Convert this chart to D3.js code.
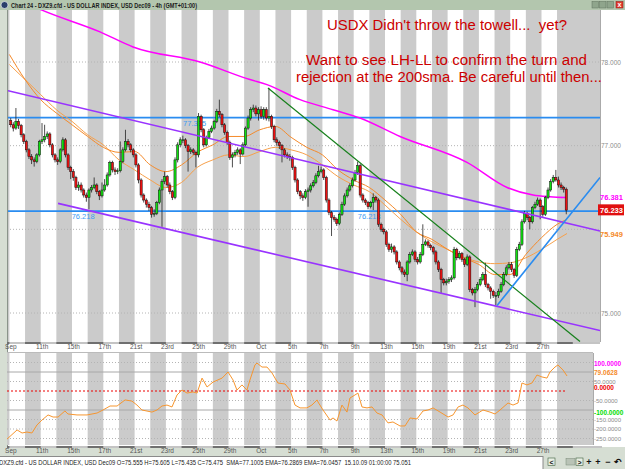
<!DOCTYPE html>
<html>
<head>
<meta charset="utf-8">
<script src="https://cdn.jsdelivr.net/npm/d3@7"></script>
<style>
  body { margin: 0; background: #fff; }
  svg { display: block; font-family: "Liberation Sans", Arial, sans-serif; }
</style>
</head>
<body>
<div id="chart"></div>
<script>
// ---- data (4h candles, 6 per trading day, Sep 9 .. Oct 28 2009) ----
const dayLabels = ["Sep","11th","15th","17th","21st","23rd","25th","29th","Oct","5th","7th","9th","13th","15th","19th","21st","23rd","27th"];
const labelDays = [0,2,4,6,8,10,12,14,16,18,20,22,24,26,28,30,32,34];

const firstOpen = 77.30;
const closes = [
  77.25, 77.21, 77.29, 77.24, 77.13, 77.05,
  76.95, 76.87, 76.83, 76.81, 76.89, 77.05,
  77.07, 77.11, 77.14, 77.01, 76.89, 76.83,
  76.81, 76.95, 77.07, 76.89, 76.74, 76.69,
  76.62, 76.50, 76.53, 76.47, 76.41, 76.38,
  76.47, 76.50, 76.53, 76.45, 76.40, 76.47,
  76.53, 76.65, 76.80, 76.71, 76.69, 76.70,
  76.81, 76.95, 77.05, 77.01, 76.95, 76.89,
  76.77, 76.59, 76.41, 76.35, 76.30, 76.26,
  76.18, 76.19, 76.32, 76.47, 76.57, 76.63,
  76.53, 76.45, 76.38, 76.83, 77.01, 77.07,
  77.07, 77.00, 76.93, 76.95, 76.92, 76.89,
  77.35, 77.19, 77.01, 77.10, 77.17, 77.21,
  77.29, 77.41, 77.37, 77.25, 77.16, 77.04,
  76.86, 76.89, 76.92, 76.95, 76.90, 77.01,
  77.21, 77.33, 77.43, 77.45, 77.38, 77.43,
  77.35, 77.43, 77.33, 77.35, 77.23, 77.07,
  77.04, 77.00, 76.95, 76.89, 76.87, 76.86,
  76.74, 76.59, 76.45, 76.40, 76.38, 76.45,
  76.47, 76.52, 76.56, 76.64, 76.69, 76.71,
  76.62, 76.35, 76.20, 76.14, 76.12, 76.07,
  76.18, 76.30, 76.40, 76.47, 76.52, 76.59,
  76.68, 76.76, 76.41, 76.35, 76.32, 76.27,
  76.32, 76.38, 76.35, 76.06, 76.00, 75.97,
  75.82, 75.76, 75.79, 75.73, 75.61, 75.54,
  75.49, 75.46, 75.61, 75.70, 75.73, 75.64,
  75.61, 75.70, 75.82, 75.85, 75.81, 75.78,
  75.73, 75.61, 75.52, 75.40, 75.36, 75.38,
  75.40, 75.42, 75.76, 75.66, 75.71, 75.64,
  75.58, 75.67, 75.28, 75.24, 75.28, 75.34,
  75.40, 75.46, 75.34, 75.30, 75.26, 75.21,
  75.21, 75.26, 75.34, 75.46, 75.54, 75.58,
  75.52, 75.45, 75.76, 75.82, 76.09, 76.19,
  76.14, 76.09, 76.26, 76.30, 76.35, 76.27,
  76.18, 76.38, 76.47, 76.57, 76.62, 76.59,
  76.53, 76.50, 76.48, 76.23
];
const highs = [
  77.33, 77.28, 77.45, 77.32, 77.26, 77.15,
  77.07, 76.97, 76.90, 76.86, 76.91, 77.07,
  77.27, 77.25, 77.17, 77.16, 77.03, 76.91,
  76.86, 76.97, 77.10, 77.09, 76.91, 76.76,
  76.72, 76.64, 76.57, 76.56, 76.49, 76.44,
  76.49, 76.53, 76.62, 76.55, 76.47, 76.56,
  76.60, 76.68, 76.82, 76.82, 76.74, 76.73,
  77.05, 76.98, 77.19, 77.08, 77.03, 76.97,
  76.91, 76.79, 76.61, 76.43, 76.37, 76.33,
  76.28, 76.24, 76.34, 76.50, 76.60, 76.69,
  76.65, 76.56, 76.47, 76.86, 77.04, 77.10,
  77.12, 77.09, 77.02, 76.98, 76.97, 76.94,
  77.39, 77.37, 77.21, 77.12, 77.20, 77.24,
  77.31, 77.44, 77.55, 77.39, 77.27, 77.18,
  77.06, 76.92, 76.95, 76.98, 76.97, 77.04,
  77.23, 77.36, 77.46, 77.49, 77.48, 77.46,
  77.47, 77.46, 77.46, 77.69, 77.37, 77.25,
  77.10, 77.06, 77.02, 76.97, 76.92, 76.90,
  76.88, 76.76, 76.61, 76.47, 76.43, 76.48,
  76.50, 76.55, 76.59, 76.67, 76.76, 76.75,
  76.73, 76.64, 76.37, 76.22, 76.17, 76.14,
  76.20, 76.33, 76.43, 76.50, 76.55, 76.62,
  76.71, 76.81, 76.78, 76.43, 76.37, 76.34,
  76.34, 76.43, 76.40, 76.37, 76.08, 76.02,
  75.99, 75.84, 75.83, 75.81, 75.75, 75.63,
  75.56, 75.52, 75.63, 75.73, 75.76, 75.75,
  75.67, 75.73, 76.06, 75.88, 75.87, 75.83,
  75.80, 75.75, 75.63, 75.54, 75.42, 75.41,
  75.43, 75.45, 75.79, 75.78, 75.74, 75.73,
  75.66, 75.70, 75.69, 75.30, 75.31, 75.37,
  75.43, 75.49, 75.60, 75.36, 75.32, 75.28,
  75.25, 75.29, 75.37, 75.49, 75.57, 75.61,
  75.61, 75.54, 75.79, 75.85, 76.12, 76.22,
  76.21, 76.16, 76.28, 76.33, 76.38, 76.37,
  76.29, 76.40, 76.50, 76.60, 76.65, 76.71,
  76.63, 76.56, 76.52, 76.50
];
const lows = [
  77.22, 77.17, 77.19, 77.20, 77.10, 77.02,
  76.92, 76.84, 76.78, 76.75, 76.79, 76.87,
  77.02, 77.04, 77.08, 76.98, 76.86, 76.80,
  76.77, 76.79, 76.93, 76.86, 76.71, 76.60,
  76.58, 76.47, 76.46, 76.44, 76.38, 76.33,
  76.24, 76.44, 76.48, 76.42, 76.35, 76.38,
  76.45, 76.51, 76.63, 76.68, 76.65, 76.66,
  76.68, 76.79, 76.93, 76.98, 76.92, 76.86,
  76.74, 76.55, 76.38, 76.32, 76.26, 76.22,
  76.14, 76.15, 76.17, 76.30, 76.03, 76.54,
  76.50, 76.42, 76.35, 76.36, 76.80, 76.98,
  77.03, 76.97, 76.69, 76.90, 76.89, 76.74,
  76.86, 77.16, 76.98, 76.99, 77.08, 77.15,
  77.19, 77.27, 77.34, 77.22, 77.13, 77.01,
  76.83, 76.74, 76.86, 76.89, 76.78, 76.88,
  76.99, 77.19, 77.30, 77.40, 77.35, 77.30,
  77.32, 77.31, 77.30, 77.29, 77.20, 77.04,
  77.00, 76.96, 76.80, 76.86, 76.84, 76.82,
  76.71, 76.56, 76.42, 76.36, 76.34, 76.36,
  76.27, 76.44, 76.50, 76.54, 76.62, 76.67,
  76.59, 76.32, 76.17, 75.92, 76.09, 76.04,
  76.05, 76.16, 76.28, 76.38, 76.45, 76.50,
  76.57, 76.65, 76.38, 76.32, 76.29, 76.24,
  76.25, 76.23, 76.32, 76.03, 75.97, 75.94,
  75.79, 75.73, 75.72, 75.70, 75.58, 75.51,
  75.46, 75.43, 75.38, 75.59, 75.68, 75.61,
  75.58, 75.59, 75.68, 75.80, 75.78, 75.75,
  75.70, 75.58, 75.49, 75.24, 75.33, 75.33,
  75.35, 75.37, 75.40, 75.63, 75.64, 75.61,
  75.55, 75.56, 75.25, 75.21, 75.07, 75.26,
  75.32, 75.38, 75.31, 75.27, 75.17, 75.18,
  75.09, 75.18, 75.24, 75.32, 75.44, 75.52,
  75.49, 75.42, 75.43, 75.74, 75.80, 76.07,
  76.11, 76.00, 76.07, 76.24, 76.28, 76.12,
  76.15, 76.16, 76.36, 76.45, 76.55, 76.57,
  76.50, 76.47, 76.44, 76.18
];

// indicator lines (position in trading days)
const emaDays  = [0,1,2,3,4,5,6,7,8,9,10,11,12,13,14,15,16,17,18,19,20,21,22,23,24,25,26,27,28,29,30,31,32,33,34,35,35.63];
const emaFast  = [78.09,77.79,77.55,77.39,77.25,77.11,76.98,76.92,76.93,76.77,76.69,76.77,76.92,77.01,77.11,77.11,77.19,77.23,77.10,76.98,76.89,76.71,76.59,76.50,76.35,76.18,75.97,75.88,75.76,75.66,75.58,75.46,75.46,75.70,75.90,76.06,76.12];
const emaSlow  = [77.97,77.79,77.61,77.43,77.29,77.13,77.01,76.83,76.71,76.59,76.50,76.56,76.74,76.83,76.89,76.87,76.93,76.98,76.95,76.89,76.77,76.63,76.53,76.45,76.29,76.12,75.97,75.85,75.76,75.67,75.61,75.59,75.60,75.66,75.76,75.88,75.95];
const smaDays  = [0, 2.08, 5.79, 7.9, 12.18, 15.37, 16.46, 18.57, 20.68, 22.4, 24.96, 29.24, 31.8, 33.46, 34.54, 35.63];
const sma200   = [78.80, 78.62, 78.36, 78.18, 78.00, 77.79, 77.73, 77.55, 77.43, 77.33, 77.11, 76.80, 76.50, 76.41, 76.39, 76.38];

const cciDays = [-0.15,0.49,0.81,1.12,1.44,1.76,2.08,2.47,2.79,3.11,3.55,3.74,4.32,4.96,5.6,5.98,6.43,6.88,7.39,7.83,8.15,8.47,9.11,9.43,9.75,10.07,10.39,10.71,11.03,11.35,11.73,11.99,12.31,12.63,13.01,13.59,13.97,14.29,14.54,14.86,15.18,15.37,15.69,15.82,16.14,16.46,16.78,16.97,17.16,17.61,17.93,18.25,18.57,19.01,19.33,19.66,19.72,20.04,20.49,20.68,20.93,21.25,21.57,21.76,22.08,22.27,22.53,22.85,23.17,23.49,23.81,24.19,24.51,24.96,25.28,25.6,26.04,26.43,26.75,27.07,27.52,28.03,28.35,28.67,28.98,29.3,29.75,30.26,30.71,31.03,31.35,31.86,32.18,32.5,32.75,33.07,33.39,33.71,34.03,34.35,34.54,34.86,35.05,35.37,35.63];
const cciVals = [-253,-205,-221,-216,-221,-179,-153,-126,-137,-137,-105,-121,-126,-126,-116,-100,-79,-79,-47,-53,-74,-100,-111,-100,-79,-74,-84,-21,5,-11,-5,-11,68,21,47,68,100,58,5,32,5,58,137,147,126,126,95,68,42,37,5,-74,-89,-89,-74,-47,-58,-100,-153,-142,-158,-74,-111,-37,-21,-11,-84,-89,-84,-116,-126,-168,-163,-184,-184,-142,-147,-105,-100,-89,-111,-137,-126,-84,-74,-89,-126,-100,-111,-121,-100,-63,-74,-63,42,32,42,84,74,68,100,126,137,111,79];

// drawn trend lines: [day, price] endpoints
const channelTop = [[-0.15, 77.66], [37.74, 75.98]];
const channelBot = [[3.11, 76.31], [37.74, 74.79]];
const greenLine  = [[16.52, 77.69], [36.46, 74.66]];
const blueRise   = [[31.16, 75.09], [37.74, 76.62]];
const levels     = [77.335, 76.218];

// ---- layout ----
const W = 625, H = 469;
const main = {left: 7, right: 600, top: 10, bottom: 342};
const low  = {left: 7, right: 593, top: 353, bottom: 445};

const x  = d3.scaleLinear().domain([0, 37]).range([9.4, 588.45]);
const y  = d3.scaleLinear().domain([75, 78]).range([313, 62]);
const yc = d3.scaleLinear().domain([-100, 100]).range([410, 372]);

const svg = d3.select("#chart").append("svg")
  .attr("width", W).attr("height", H);

// window frame
svg.append("rect").attr("width", W).attr("height", H).attr("fill", "#d6ded3");
svg.append("rect").attr("x", main.left).attr("y", main.top)
  .attr("width", W - main.left).attr("height", 447 - main.top).attr("fill", "#fff");

const defs = svg.append("defs");
defs.append("clipPath").attr("id", "clipMain").append("rect")
  .attr("x", main.left).attr("y", main.top)
  .attr("width", main.right - main.left).attr("height", main.bottom - main.top);
defs.append("clipPath").attr("id", "clipLow").append("rect")
  .attr("x", low.left).attr("y", low.top)
  .attr("width", low.right - low.left).attr("height", low.bottom - low.top);

// alternating day stripes + greyed future area
function stripes(g, box) {
  const days = d3.range(-1, 38).filter(d => d % 2 !== 0);
  g.selectAll(null).data(days).enter().append("rect")
    .attr("x", d => x(d)).attr("y", box.top)
    .attr("width", x(1) - x(0)).attr("height", box.bottom - box.top)
    .attr("fill", "#cbcbcb");
  g.append("rect").attr("x", x(35)).attr("y", box.top)
    .attr("width", box.right - x(35)).attr("height", box.bottom - box.top)
    .attr("fill", "#cbcbcb");
}

const gMain = svg.append("g").attr("clip-path", "url(#clipMain)");
stripes(gMain, main);

// dotted price grid
gMain.selectAll(null).data([75, 76, 77, 78]).enter().append("line")
  .attr("x1", main.left).attr("x2", main.right)
  .attr("y1", d => y(d)).attr("y2", d => y(d))
  .attr("stroke", "#b4b4b4").attr("stroke-dasharray", "1,2");

// horizontal support / resistance levels
gMain.selectAll(null).data(levels).enter().append("line")
  .attr("x1", main.left).attr("x2", main.right)
  .attr("y1", d => y(d)).attr("y2", d => y(d))
  .attr("stroke", "#2a8cf0").attr("stroke-width", 1.6);

const levelTags = [[3.98, 76.218], [11.1, 77.335], [22.26, 76.218]];
gMain.selectAll(null).data(levelTags).enter().append("text")
  .attr("x", d => x(d[0])).attr("y", d => y(d[1]) + 8)
  .attr("font-size", 7.5).attr("fill", "#3d9cf5")
  .text(d => d[1].toFixed(3));

// moving averages
const line = d3.line().curve(d3.curveMonotoneX);
gMain.append("path")
  .attr("d", line(emaDays.map((d, i) => [x(d), y(emaSlow[i])])))
  .attr("fill", "none").attr("stroke", "#f7a04a").attr("stroke-width", 1);
gMain.append("path")
  .attr("d", line(emaDays.map((d, i) => [x(d), y(emaFast[i])])))
  .attr("fill", "none").attr("stroke", "#f58a2a").attr("stroke-width", 1);
gMain.append("path")
  .attr("d", line(smaDays.map((d, i) => [x(d), y(sma200[i])])))
  .attr("fill", "none").attr("stroke", "#ff00ff").attr("stroke-width", 1.5);

// candles
const candles = closes.map((c, i) => ({
  t: (i + 0.5) / 6,
  o: i ? closes[i - 1] : firstOpen,
  c: c, h: highs[i], l: lows[i]
}));
const cg = gMain.append("g");
cg.selectAll("line.wick").data(candles).enter().append("line")
  .attr("class", "wick")
  .attr("x1", d => x(d.t)).attr("x2", d => x(d.t))
  .attr("y1", d => y(d.h)).attr("y2", d => y(d.l))
  .attr("stroke", "#222").attr("stroke-width", 0.8);
cg.selectAll("rect.body").data(candles).enter().append("rect")
  .attr("class", "body")
  .attr("x", d => x(d.t) - 1.1).attr("width", 2.2)
  .attr("y", d => y(Math.max(d.o, d.c)))
  .attr("height", d => Math.max(0.8, Math.abs(y(d.o) - y(d.c))))
  .attr("fill", d => d.c >= d.o ? "#10e010" : "#ee1111")
  .attr("stroke", "#111").attr("stroke-width", 0.5);

// trend lines
const trend = [
  [channelTop, "#9933ff", 1.6],
  [channelBot, "#9933ff", 1.6],
  [greenLine, "#17801c", 1.2],
  [blueRise, "#2a8cf0", 1.6]
];
trend.forEach(([pts, col, w]) => {
  gMain.append("line")
    .attr("x1", x(pts[0][0])).attr("y1", y(pts[0][1]))
    .attr("x2", x(pts[1][0])).attr("y2", y(pts[1][1]))
    .attr("stroke", col).attr("stroke-width", w);
});

// panel borders
svg.append("line").attr("x1", main.left + 0.5).attr("x2", main.left + 0.5)
  .attr("y1", main.top).attr("y2", 447).attr("stroke", "#8a948a");
svg.append("line").attr("x1", main.right + 0.5).attr("x2", main.right + 0.5)
  .attr("y1", main.top).attr("y2", main.bottom).attr("stroke", "#aaa");

// annotation
const notes = [
  ["USDX Didn't throw the towell...  yet?", 447, 30, 240],
  ["Want to see LH-LL to confirm the turn and", 446.5, 65, 281],
  ["rejection at the 200sma. Be careful until then...", 449, 82, 306]
];
svg.selectAll(null).data(notes).enter().append("text")
  .attr("x", d => d[1]).attr("y", d => d[2])
  .attr("text-anchor", "middle").attr("font-size", 14)
  .attr("fill", "#cc0000").style("white-space", "pre")
  .attr("textLength", d => d[3]).attr("lengthAdjust", "spacingAndGlyphs")
  .text(d => d[0]);

// right price axis
const yAxis = svg.append("g").attr("transform", `translate(${main.right},0)`)
  .call(d3.axisRight(y).tickValues([75, 77, 78]).tickSize(0).tickPadding(1)
    .tickFormat(d3.format(".3f")));
yAxis.select(".domain").remove();
yAxis.selectAll("text").attr("font-size", 6.5).attr("fill", "#8c8c8c")
  .attr("font-family", "Liberation Sans, Arial, sans-serif");

const priceTags = [
  [76.381, "#ff00ff", null],
  [76.233, "#fff", "#e01010"],
  [75.949, "#f58a2a", null]
];
priceTags.forEach(([v, col, bg]) => {
  if (bg) {
    svg.append("rect").attr("x", 598).attr("y", y(v) - 5.5)
      .attr("width", 26).attr("height", 11).attr("fill", bg);
  }
  svg.append("text").attr("x", 600).attr("y", y(v) + 3)
    .attr("font-size", 7.5).attr("font-weight", "bold").attr("fill", col)
    .text(v.toFixed(3));
});

// date axis strips
function dateAxis(yBar, yText, right) {
  svg.append("rect").attr("x", main.left).attr("y", yBar)
    .attr("width", right - main.left).attr("height", 2).attr("fill", "#c4c4c4");
  svg.selectAll(null).data(d3.range(-1, 37).filter(d => d % 2 !== 0)).enter()
    .append("rect")
    .attr("x", d => Math.max(main.left, x(d))).attr("y", yBar)
    .attr("width", d => x(d + 1) - Math.max(main.left, x(d))).attr("height", 2)
    .attr("fill", "#6f6f6f");
  const ax = svg.append("g").attr("transform", `translate(1,${yText})`)
    .call(d3.axisBottom(x).tickValues(labelDays).tickSize(0).tickPadding(0)
      .tickFormat((d, i) => dayLabels[i]));
  ax.select(".domain").remove();
  ax.selectAll("text").attr("font-size", 6.5).attr("fill", "#555")
    .attr("font-family", "Liberation Sans, Arial, sans-serif");
}
dateAxis(main.bottom, main.bottom + 2, main.right);

// ---- CCI panel ----
svg.append("line").attr("x1", low.left).attr("x2", low.right)
  .attr("y1", low.top - 0.5).attr("y2", low.top - 0.5).attr("stroke", "#bbb");
const gLow = svg.append("g").attr("clip-path", "url(#clipLow)");
stripes(gLow, low);
gLow.selectAll(null).data([150, 50, -50, -150, -200, -250]).enter().append("line")
  .attr("x1", low.left).attr("x2", low.right)
  .attr("y1", d => yc(d)).attr("y2", d => yc(d))
  .attr("stroke", "#b4b4b4").attr("stroke-dasharray", "1,2");
gLow.selectAll(null).data([100, -100]).enter().append("line")
  .attr("x1", low.left).attr("x2", low.right)
  .attr("y1", d => yc(d)).attr("y2", d => yc(d))
  .attr("stroke", "#a8a8a8");
gLow.append("line").attr("x1", low.left).attr("x2", x(35.63))
  .attr("y1", yc(0)).attr("y2", yc(0))
  .attr("stroke", "#ee0000").attr("stroke-dasharray", "2,2");
gLow.append("path")
  .attr("d", d3.line()(cciDays.map((d, i) => [x(d), yc(cciVals[i])])))
  .attr("fill", "none").attr("stroke", "#f7962f").attr("stroke-width", 1);
svg.append("line").attr("x1", low.right + 0.5).attr("x2", low.right + 0.5)
  .attr("y1", low.top).attr("y2", low.bottom).attr("stroke", "#aaa");

// CCI scale labels (grey) and value tags (coloured)
const cciTicks = [50, -50, -150, -200, -250];
svg.selectAll(null).data(cciTicks).enter().append("text")
  .attr("x", 594).attr("y", d => yc(d) + 2)
  .attr("font-size", 6).attr("fill", "#8c8c8c")
  .text(d => d.toFixed(4));
const cciTags = [[100, "#ff00ff", -6], [79.0628, "#f58a2a", -0.5], [0, "#ee0000", -1], [-100, "#00dd00", 4.5]];
cciTags.forEach(([v, col, dy]) => {
  svg.append("text").attr("x", 594).attr("y", yc(v) + dy)
    .attr("font-size", 6.5).attr("font-weight", "bold").attr("fill", col)
    .text(v.toFixed(4));
});

dateAxis(low.bottom + 1, low.bottom + 3, 602);

// ---- title bar ----
svg.append("rect").attr("width", W).attr("height", 10).attr("fill", "#b3c6ae");
svg.append("circle").attr("cx", 4.5).attr("cy", 5).attr("r", 3.5)
  .attr("fill", "#2b3f6b").attr("stroke", "#fff").attr("stroke-width", 0.6);
svg.append("text").attr("x", 11).attr("y", 8)
  .attr("font-size", 7).attr("font-weight", "bold").attr("fill", "#1b1b1b")
  .attr("textLength", 186).attr("lengthAdjust", "spacingAndGlyphs")
  .text("Chart 24 - DXZ9.cfd - US DOLLAR INDEX, USD Dec09 - 4h (GMT+01:00)");
[592, 599.5, 607].forEach(bx => {
  svg.append("rect").attr("x", bx).attr("y", 1.5).attr("width", 6.5).attr("height", 6.5)
    .attr("fill", "#8fa58c").attr("stroke", "#5e705c").attr("stroke-width", 0.5);
});
svg.append("rect").attr("x", 616).attr("y", 1.5).attr("width", 7).attr("height", 6.5)
  .attr("fill", "#e23b2e").attr("stroke", "#8a1a12").attr("stroke-width", 0.5);
svg.append("text").attr("x", 619.5).attr("y", 7.3).attr("text-anchor", "middle")
  .attr("font-size", 7).attr("font-weight", "bold").attr("fill", "#fff").text("x");

// ---- status bar ----
svg.append("rect").attr("x", -1).attr("y", 456.5).attr("width", 544).attr("height", 13)
  .attr("fill", "#fff").attr("stroke", "#8a8a8a");
svg.append("text").attr("x", -1).attr("y", 465)
  .attr("font-size", 6.8).attr("fill", "#222").style("white-space", "pre")
  .attr("textLength", 412).attr("lengthAdjust", "spacingAndGlyphs")
  .text("DXZ9.cfd - US DOLLAR INDEX, USD Dec09 O=75.555 H=75.605 L=75.435 C=75.475  SMA=77.1005 EMA=76.2869 EMA=76.0457  15.10.09 01:00:00 75.051");

const btns = [[548, "<"], [576, ">"]];
btns.forEach(([bx, s]) => {
  svg.append("rect").attr("x", bx).attr("y", 458).attr("width", 7).attr("height", 7.5)
    .attr("fill", "#e8efe4").attr("stroke", "#3c5e3c").attr("stroke-width", 0.6);
  svg.append("text").attr("x", bx + 3.5).attr("y", 464.5).attr("text-anchor", "middle")
    .attr("font-size", 7).attr("font-weight", "bold").attr("fill", "#111").text(s);
});
svg.append("rect").attr("x", 566).attr("y", 458.5).attr("width", 9).attr("height", 6.5)
  .attr("fill", "#b9c3b6").attr("stroke", "#7a8a78").attr("stroke-width", 0.5);
[[589, "+"], [598, "+"], [608, "\u2212"], [618, "\u21B6"]].forEach(([bx, s]) => {
  svg.append("text").attr("x", bx).attr("y", 465).attr("text-anchor", "middle")
    .attr("font-size", 9).attr("font-weight", "bold").attr("fill", "#111").text(s);
});
</script>
</body>
</html>
